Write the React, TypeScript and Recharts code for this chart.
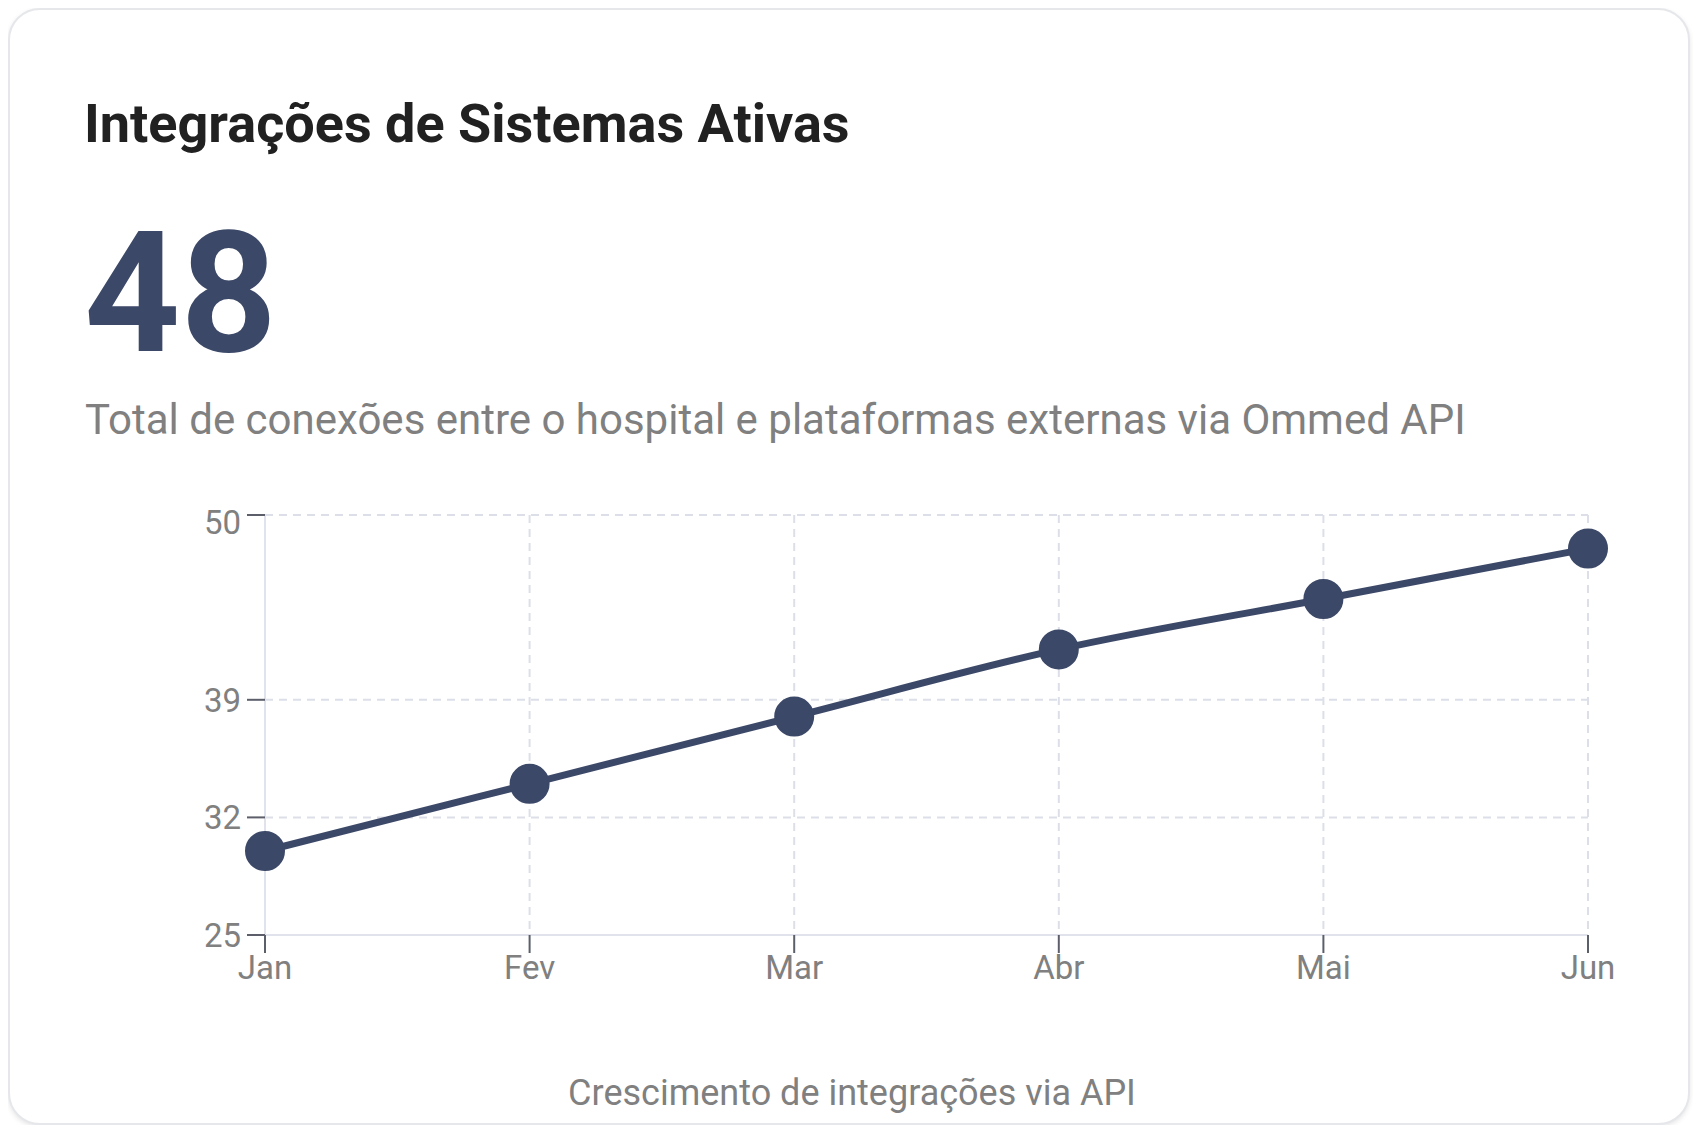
import {
  LineChart,
  Line,
  XAxis,
  YAxis,
  CartesianGrid,
} from "recharts";

const months = ["Jan", "Fev", "Mar", "Abr", "Mai", "Jun"];
const integrations = [30, 34, 38, 42, 45, 48];
const yTicks = [25, 32, 39, 50];

const data = months.map((month, i) => ({ month, value: integrations[i] }));

const navy = "#3c4867";
const gray = "#808080";

// y labels sit centred on their tick, except the top one which drops a bit
const YTick = (props: any) => {
  const { x, y, payload } = props;
  const shift = payload.value === yTicks[yTicks.length - 1] ? 7 : 0;
  return (
    <text
      x={x}
      y={y + shift}
      dy="0.355em"
      textAnchor="end"
      fill={gray}
      fontSize={33}
    >
      {payload.value}
    </text>
  );
};

const App = () => {
  return (
    <div
      style={{
        position: "relative",
        width: 1682,
        height: 1117,
        boxSizing: "border-box",
        border: "2px solid #e6e7eb",
        borderRadius: 32,
        background: "#fff",
        boxShadow: "0 2px 5px rgba(0,0,0,0.1)",
        fontFamily: "Roboto, sans-serif",
      }}
    >
      <div
        style={{
          position: "absolute",
          left: 74,
          top: 82,
          fontSize: 54,
          fontWeight: 700,
          color: "#212121",
          whiteSpace: "nowrap",
        }}
      >
        Integrações de Sistemas Ativas
      </div>
      <div
        style={{
          position: "absolute",
          left: 74,
          top: 185,
          fontSize: 168,
          fontWeight: 700,
          color: navy,
        }}
      >
        48
      </div>
      <div
        style={{
          position: "absolute",
          left: 75,
          top: 385,
          fontSize: 42,
          color: gray,
          whiteSpace: "nowrap",
        }}
      >
        Total de conexões entre o hospital e plataformas externas via Ommed API
      </div>

      <div style={{ position: "absolute", left: 0, top: 470 }}>
        <LineChart
          width={1680}
          height={520}
          data={data}
          margin={{ top: 35, right: 102, bottom: 5, left: 0 }}
        >
          <CartesianGrid
            stroke="#dcdfe8"
            strokeWidth={2}
            strokeDasharray="8 6"
          />
          <XAxis
            dataKey="month"
            height={60}
            tick={{ fill: gray, fontSize: 33 }}
            tickSize={18}
            tickMargin={3}
            axisLine={{ stroke: "#e0e2ec", strokeWidth: 2 }}
            tickLine={{ stroke: "#5c5f6a", strokeWidth: 2 }}
          />
          <YAxis
            width={255}
            domain={[25, 50]}
            ticks={yTicks}
            interval={0}
            tick={<YTick />}
            tickSize={18}
            tickMargin={6}
            axisLine={{ stroke: "#e0e2ec", strokeWidth: 2 }}
            tickLine={{ stroke: "#5c5f6a", strokeWidth: 2 }}
          />
          <Line
            type="monotone"
            dataKey="value"
            stroke={navy}
            strokeWidth={7}
            dot={{ r: 19, fill: navy, stroke: navy, strokeWidth: 2 }}
            activeDot={false}
            isAnimationActive={false}
          />
        </LineChart>
      </div>

      <div
        style={{
          position: "absolute",
          left: 6,
          right: 0,
          top: 1062,
          textAlign: "center",
          fontSize: 36,
          color: gray,
        }}
      >
        Crescimento de integrações via API
      </div>
    </div>
  );
};

export default App;
